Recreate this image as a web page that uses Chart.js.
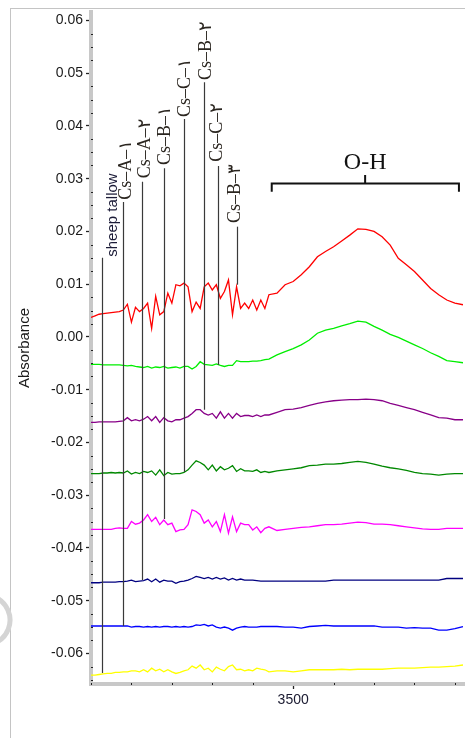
<!DOCTYPE html>
<html><head><meta charset="utf-8">
<script src="https://cdn.jsdelivr.net/npm/chart.js@4/dist/chart.umd.min.js"></script>
<style>
html,body{margin:0;padding:0;background:#fff;}
#wrap{position:relative;width:465px;height:738px;overflow:hidden;}
#frame{position:absolute;left:10px;top:8px;width:480px;height:760px;border-left:1px solid #c4c4c4;border-top:1px solid #c4c4c4;}
canvas{position:absolute;left:0;top:0;}
</style></head><body>
<div id="wrap"><div id="frame"></div><canvas id="c" width="465" height="738"></canvas></div>
<script>
// ---- data (wavenumber, cm^-1) ----
const wavenumbers = [4000,3990,3980,3970,3960,3950,3940,3930,3920,3910,
 3900,3890,3880,3870,3860,3850,3840,3830,3820,3810,
 3800,3790,3780,3770,3760,3750,3740,3730,3720,3710,
 3700,3690,3680,3670,3660,3650,3640,3630,3620,3610,
 3600,3590,3580,3570,3560,
 3540,3520,3500,3480,3460,3440,3420,3400,3380,3360,
 3340,3320,3300,3280,3260,3240,3220,3200,3180,3160,
 3140,3120,3100,3080];

const redSeries = [0.0037,0.0040,0.0043,0.0044,0.0045,0.0046,0.0047,0.0048,0.0051,0.0062,
 0.0028,0.0056,0.0048,0.0054,0.0064,0.0016,0.0077,0.0042,0.0048,0.0083,
 0.0064,0.0099,0.0097,0.0102,0.0095,0.0048,0.0066,0.0054,0.0095,0.0102,
 0.0089,0.0099,0.0073,0.0086,0.0108,0.0042,0.0095,0.0054,0.0064,0.0054,
 0.0070,0.0051,0.0070,0.0054,0.0080,
 0.0083,0.0099,0.0105,0.0118,0.0133,0.0152,0.0162,0.0171,0.0182,0.0193,
 0.0205,0.0204,0.0200,0.0190,0.0174,0.0149,0.0137,0.0124,0.0108,0.0092,
 0.0080,0.0070,0.0064,0.0061];

const limeSeries = [-0.0052,-0.0052,-0.0052,-0.0053,-0.0053,-0.0053,-0.0053,-0.0053,-0.0054,-0.0055,
 -0.0054,-0.0056,-0.0057,-0.0058,-0.0056,-0.0059,-0.0057,-0.0058,-0.0056,-0.0059,
 -0.0058,-0.0057,-0.0059,-0.0056,-0.0056,-0.0061,-0.0056,-0.0047,-0.0052,-0.0053,
 -0.0054,-0.0051,-0.0054,-0.0056,-0.0054,-0.0054,-0.0045,-0.0047,-0.0047,-0.0047,
 -0.0046,-0.0046,-0.0045,-0.0043,-0.0042,
 -0.0034,-0.0028,-0.0022,-0.0015,-0.0006,0.0007,0.0013,0.0016,0.0021,0.0025,
 0.0030,0.0028,0.0020,0.0013,0.0005,-0.0001,-0.0008,-0.0015,-0.0022,-0.0030,
 -0.0037,-0.0045,-0.0047,-0.0049];

const purpleSeries = [-0.0162,-0.0162,-0.0161,-0.0161,-0.0161,-0.0161,-0.0161,-0.0160,-0.0159,-0.0153,
 -0.0159,-0.0157,-0.0159,-0.0156,-0.0151,-0.0159,-0.0151,-0.0162,-0.0153,-0.0159,
 -0.0161,-0.0157,-0.0157,-0.0154,-0.0151,-0.0145,-0.0138,-0.0138,-0.0145,-0.0148,
 -0.0145,-0.0154,-0.0142,-0.0154,-0.0145,-0.0154,-0.0145,-0.0151,-0.0149,-0.0149,
 -0.0151,-0.0148,-0.0151,-0.0148,-0.0148,
 -0.0143,-0.0138,-0.0137,-0.0134,-0.0130,-0.0126,-0.0123,-0.0121,-0.0120,-0.0119,
 -0.0119,-0.0118,-0.0119,-0.0121,-0.0126,-0.0130,-0.0134,-0.0138,-0.0143,-0.0148,
 -0.0153,-0.0154,-0.0157,-0.0157];

const greenSeries = [-0.0259,-0.0259,-0.0259,-0.0258,-0.0258,-0.0257,-0.0258,-0.0257,-0.0258,-0.0254,
 -0.0260,-0.0257,-0.0259,-0.0255,-0.0257,-0.0254,-0.0262,-0.0252,-0.0263,-0.0257,
 -0.0260,-0.0259,-0.0259,-0.0257,-0.0252,-0.0243,-0.0235,-0.0238,-0.0243,-0.0252,
 -0.0243,-0.0254,-0.0246,-0.0252,-0.0249,-0.0244,-0.0255,-0.0250,-0.0254,-0.0254,
 -0.0255,-0.0252,-0.0257,-0.0255,-0.0257,
 -0.0254,-0.0252,-0.0250,-0.0248,-0.0244,-0.0243,-0.0241,-0.0241,-0.0240,-0.0238,
 -0.0236,-0.0238,-0.0241,-0.0245,-0.0248,-0.0250,-0.0253,-0.0257,-0.0259,-0.0260,
 -0.0262,-0.0260,-0.0259,-0.0259];

const magentaSeries = [-0.0365,-0.0365,-0.0365,-0.0365,-0.0365,-0.0365,-0.0363,-0.0362,-0.0363,-0.0363,
 -0.0350,-0.0355,-0.0353,-0.0347,-0.0337,-0.0350,-0.0342,-0.0356,-0.0347,-0.0356,
 -0.0353,-0.0369,-0.0366,-0.0365,-0.0356,-0.0328,-0.0331,-0.0337,-0.0353,-0.0347,
 -0.0360,-0.0350,-0.0369,-0.0337,-0.0372,-0.0341,-0.0369,-0.0353,-0.0356,-0.0356,
 -0.0366,-0.0360,-0.0371,-0.0363,-0.0360,
 -0.0367,-0.0365,-0.0363,-0.0361,-0.0360,-0.0358,-0.0356,-0.0356,-0.0355,-0.0353,
 -0.0351,-0.0352,-0.0355,-0.0355,-0.0356,-0.0358,-0.0360,-0.0362,-0.0364,-0.0365,
 -0.0365,-0.0363,-0.0363,-0.0363];

const navySeries = [-0.0466,-0.0466,-0.0466,-0.0465,-0.0465,-0.0465,-0.0465,-0.0464,-0.0464,-0.0463,
 -0.0461,-0.0464,-0.0463,-0.0462,-0.0459,-0.0464,-0.0459,-0.0465,-0.0461,-0.0463,
 -0.0463,-0.0467,-0.0464,-0.0463,-0.0461,-0.0458,-0.0454,-0.0456,-0.0458,-0.0456,
 -0.0459,-0.0456,-0.0459,-0.0457,-0.0461,-0.0458,-0.0461,-0.0459,-0.0461,-0.0461,
 -0.0461,-0.0462,-0.0463,-0.0463,-0.0463,
 -0.0463,-0.0463,-0.0463,-0.0463,-0.0463,-0.0463,-0.0463,-0.0461,-0.0461,-0.0461,
 -0.0461,-0.0461,-0.0461,-0.0461,-0.0461,-0.0461,-0.0461,-0.0461,-0.0461,-0.0461,
 -0.0461,-0.0458,-0.0458,-0.0458];

const blueSeries = [-0.0548,-0.0548,-0.0548,-0.0548,-0.0548,-0.0548,-0.0548,-0.0548,-0.0548,-0.0548,
 -0.0550,-0.0549,-0.0549,-0.0550,-0.0549,-0.0550,-0.0549,-0.0550,-0.0549,-0.0549,
 -0.0550,-0.0549,-0.0550,-0.0549,-0.0550,-0.0549,-0.0546,-0.0547,-0.0545,-0.0548,
 -0.0546,-0.0550,-0.0552,-0.0550,-0.0552,-0.0556,-0.0552,-0.0550,-0.0549,-0.0550,
 -0.0550,-0.0550,-0.0549,-0.0549,-0.0549,
 -0.0549,-0.0550,-0.0550,-0.0552,-0.0549,-0.0548,-0.0547,-0.0548,-0.0548,-0.0548,
 -0.0548,-0.0548,-0.0548,-0.0550,-0.0550,-0.0550,-0.0552,-0.0551,-0.0552,-0.0552,
 -0.0556,-0.0556,-0.0553,-0.0549];

const yellowSeries = [-0.0641,-0.0641,-0.0640,-0.0639,-0.0638,-0.0638,-0.0636,-0.0636,-0.0635,-0.0635,
 -0.0633,-0.0633,-0.0635,-0.0631,-0.0635,-0.0628,-0.0633,-0.0630,-0.0635,-0.0631,
 -0.0635,-0.0638,-0.0636,-0.0633,-0.0631,-0.0624,-0.0628,-0.0622,-0.0631,-0.0628,
 -0.0635,-0.0626,-0.0630,-0.0633,-0.0625,-0.0622,-0.0631,-0.0630,-0.0633,-0.0631,
 -0.0633,-0.0628,-0.0630,-0.0631,-0.0635,
 -0.0633,-0.0633,-0.0635,-0.0633,-0.0631,-0.0631,-0.0631,-0.0631,-0.0630,-0.0631,
 -0.0630,-0.0630,-0.0630,-0.0630,-0.0629,-0.0628,-0.0628,-0.0628,-0.0627,-0.0626,
 -0.0626,-0.0625,-0.0624,-0.0622];

const seriesList = [redSeries, limeSeries, purpleSeries, greenSeries, magentaSeries, navySeries, blueSeries, yellowSeries];
const seriesColors = ['#ff0000','#00ee00','#880088','#008800','#ff00ff','#000080','#0000ff','#ffff00'];

// tick labels
const xTickValues = [3100,3200,3300,3400,3500,3600,3700,3800,3900,4000];
const xTickLabels = ['3500'];
const yTickLabels = ['-0.06','-0.05','-0.04','-0.03','-0.02','-0.01','0.00','0.01','0.02','0.03','0.04','0.05','0.06'];

// band markers
const markNames = ['sheep tallow','Cs\u2013A\u2013\u06F1','Cs\u2013A\u2013\u06F2','Cs\u2013B\u2013\u06F1','Cs\u2013C\u2013\u06F1','Cs\u2013B\u2013\u06F2','Cs\u2013C\u2013\u06F2','Cs\u2013B\u2013\u06F3'];
const markWn = [3972,3921,3873,3820,3769,3720,3687,3639];
const markTop = [0.0150,0.0256,0.0294,0.0320,0.0413,0.0483,0.0324,0.0209];
const markBottom = [-0.0637,-0.0548,-0.0461,-0.0345,-0.0256,-0.0138,-0.0053,0.0099];
const labelWn = [3946,3914,3867,3817,3768,3716,3687,3642];
const labelBase = [0.0152,0.0260,0.0301,0.0326,0.0417,0.0487,0.0332,0.0216];

const bandName = 'O-H';
const bandRange = [3553, 3090];
const bandCenter = 3322;

const yMajor = yTickLabels.map(Number);
const isMajorY = v => yMajor.some(m => Math.abs(m - v) < 1e-7);
const yTickValues = [];
for (let i = -26; i <= 24; i++) yTickValues.push(Math.round(i * 25) / 10000);

const annot = {
  id: 'annot',
  afterDatasetsDraw(chart) {
    const { ctx, scales: { x, y }, chartArea: ca } = chart;
    ctx.save();
    // minor tick dots on axis bars
    ctx.fillStyle = '#222';
    y.ticks.forEach(t => {
      if (!isMajorY(t.value)) {
        const py = Math.round(y.getPixelForValue(t.value));
        ctx.fillRect(ca.left, py, 2, 1);
      }
    });
    x.ticks.forEach(t => {
      if (!xTickLabels.includes(String(t.value))) {
        const px = Math.round(x.getPixelForValue(t.value));
        ctx.fillRect(px, ca.bottom - 1, 1, 2);
      }
    });
    // marker lines
    ctx.strokeStyle = '#3a3a3a';
    ctx.lineWidth = 1.2;
    for (let i = 0; i < markWn.length; i++) {
      const X = Math.round(x.getPixelForValue(markWn[i])) + 0.5;
      ctx.beginPath();
      ctx.moveTo(X, y.getPixelForValue(markTop[i]));
      ctx.lineTo(X, y.getPixelForValue(markBottom[i]));
      ctx.stroke();
    }
    // marker labels
    for (let i = 0; i < markNames.length; i++) {
      ctx.save();
      ctx.translate(x.getPixelForValue(labelWn[i]), y.getPixelForValue(labelBase[i]));
      ctx.rotate(-Math.PI / 2);
      ctx.textAlign = 'left';
      ctx.textBaseline = 'middle';
      if (i === 0) { ctx.font = '15px "Liberation Sans", Arial, sans-serif'; ctx.fillStyle = '#1c1c38'; }
      else { ctx.font = '18px "Liberation Serif", "DejaVu Sans", serif'; ctx.fillStyle = '#2b2620'; }
      ctx.fillText(markNames[i], 0, 0);
      ctx.restore();
    }
    // O-H bracket
    const xl = x.getPixelForValue(bandRange[0]), xr = x.getPixelForValue(bandRange[1]);
    const xc = x.getPixelForValue(bandCenter);
    const yb = y.getPixelForValue(0.0291), ye = y.getPixelForValue(0.0275), yt = y.getPixelForValue(0.0307);
    ctx.strokeStyle = '#111'; ctx.lineWidth = 2;
    ctx.beginPath();
    ctx.moveTo(xl, ye); ctx.lineTo(xl, yb); ctx.lineTo(xr, yb); ctx.lineTo(xr, ye);
    ctx.moveTo(xc, yb); ctx.lineTo(xc, yt);
    ctx.stroke();
    ctx.font = '24px "Liberation Serif", "Times New Roman", serif';
    ctx.fillStyle = '#111';
    ctx.textAlign = 'center'; ctx.textBaseline = 'alphabetic';
    ctx.fillText(bandName, xc, y.getPixelForValue(0.0318));
    ctx.restore();
  },
  afterDraw(chart) {
    const ctx = chart.ctx;
    ctx.save();
    ctx.strokeStyle = '#d4d4d4';
    ctx.lineWidth = 5;
    ctx.beginPath();
    ctx.arc(-15, 620, 25, -1.2, 1.2);
    ctx.stroke();
    ctx.restore();
  }
};

new Chart(document.getElementById('c'), {
  type: 'line',
  data: {
    datasets: seriesList.map((s, k) => ({
      data: wavenumbers.map((w, i) => ({ x: w, y: s[i] })),
      borderColor: seriesColors[k],
      borderWidth: 1.3,
      pointRadius: 0,
      tension: 0,
      fill: false
    }))
  },
  options: {
    responsive: false,
    animation: false,
    layout: { padding: { left: 10, top: 12, right: 0, bottom: 0 } },
    plugins: { legend: { display: false }, tooltip: { enabled: false } },
    scales: {
      x: {
        type: 'linear', reverse: true, min: 3075, max: 4000,
        afterBuildTicks: s => { s.ticks = xTickValues.map(v => ({ value: v })); },
        afterFit: s => { s.height = 54; },
        ticks: {
          autoSkip: false, maxRotation: 0, padding: 3,
          callback: v => xTickLabels.includes(String(v)) ? String(v) : '',
          font: { family: '"Liberation Sans", Arial, sans-serif', size: 14 },
          color: '#1a1a30'
        },
        grid: {
          drawOnChartArea: false, drawTicks: true, tickLength: 5, tickWidth: 1.3,
          tickColor: c => (c.tick && xTickLabels.includes(String(c.tick.value))) ? '#222' : 'rgba(0,0,0,0)'
        },
        border: { display: true, color: '#c8c8c8', width: 4 }
      },
      y: {
        type: 'linear', min: -0.0658, max: 0.0616,
        afterBuildTicks: s => { s.ticks = yTickValues.map(v => ({ value: v })); },
        afterFit: s => { s.width = 81; },
        ticks: {
          autoSkip: false, padding: 3,
          callback: v => { const i = yMajor.findIndex(m => Math.abs(m - v) < 1e-7); return i >= 0 ? yTickLabels[i] : ''; },
          font: { family: '"Liberation Sans", Arial, sans-serif', size: 14 },
          color: '#1a1a1a'
        },
        grid: {
          drawOnChartArea: false, drawTicks: true, tickLength: 5, tickWidth: 1.3,
          tickColor: c => (c.tick && isMajorY(c.tick.value)) ? '#222' : 'rgba(0,0,0,0)'
        },
        border: { display: true, color: '#c8c8c8', width: 4 },
        title: {
          display: true, text: 'Absorbance',
          font: { family: '"Liberation Sans", Arial, sans-serif', size: 15 },
          color: '#1a1a1a', padding: { top: 6, bottom: 0 }
        }
      }
    }
  },
  plugins: [annot]
});
</script>
</body></html>
